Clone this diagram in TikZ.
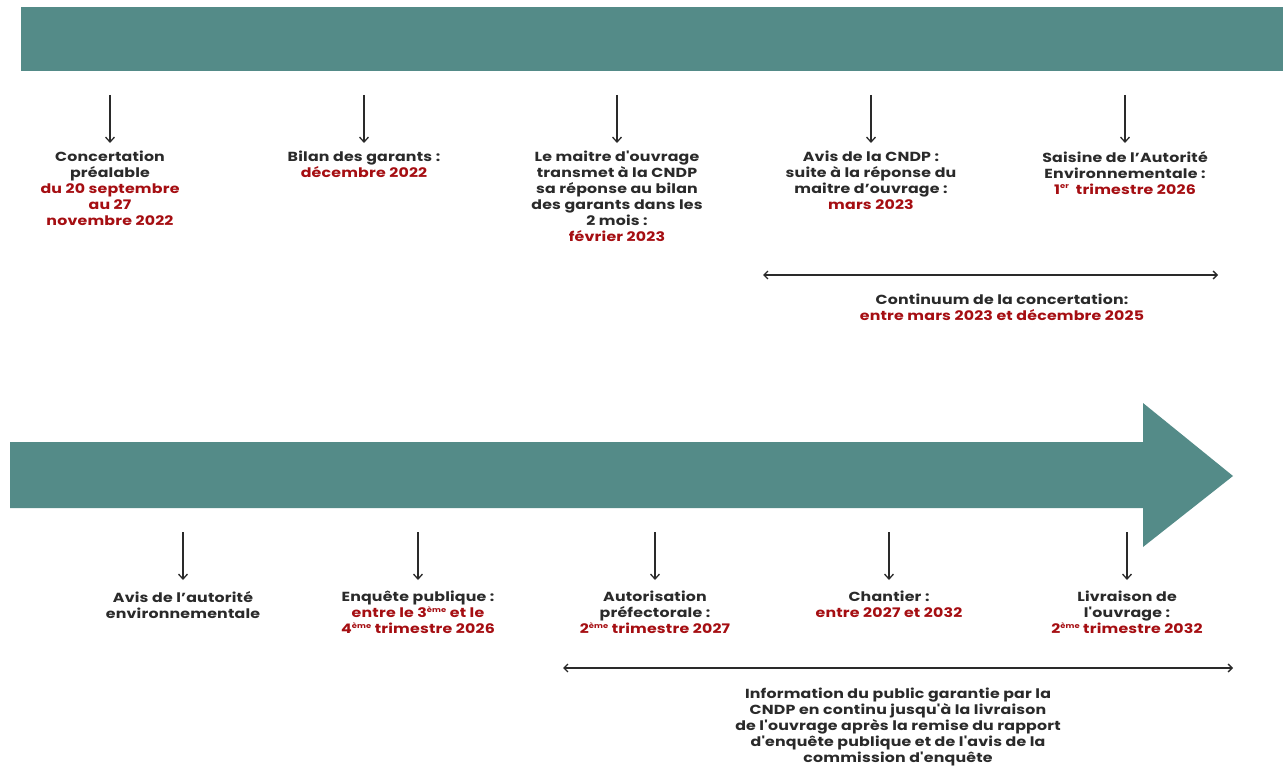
\documentclass[tikz,border=0pt]{standalone}
\usepackage{fontspec}
\setmainfont{Poppins}
\newfontfamily\lblfont{Poppins}[FakeStretch=1.2, LetterSpace=1.5]
\usetikzlibrary{arrows.meta}
\definecolor{teal1}{HTML}{548B88}
\definecolor{dred}{HTML}{A50E12}
\definecolor{dtxt}{HTML}{2A2A2A}
\tikzset{
  lbl/.style={anchor=north, align=center, text=dtxt, inner sep=0pt,
    font=\lblfont\fontsize{13.2}{16}\selectfont\bfseries},
  tick/.style={draw=dtxt, line width=1.3bp, -{Straight Barb[length=5bp,width=9bp]}},
  span/.style={draw=dtxt, line width=1.3bp, {Straight Barb[length=4bp,width=8bp]}-{Straight Barb[length=4bp,width=8bp]}},
}
\newcommand{\rd}[1]{\textcolor{dred}{#1}}
\newcommand{\exps}[1]{\raisebox{0.42em}{\fontsize{7}{7}\selectfont #1}}
\begin{document}
\begin{tikzpicture}[x=1bp,y=-1bp]
\useasboundingbox (0,0) rectangle (1287,767);
% top bar
\fill[teal1] (21,7) rectangle (1283,71);
% bottom arrow
\fill[teal1] (10,442) -- (1143,442) -- (1143,403) -- (1233,476) -- (1143,547) -- (1143,508) -- (10,508) -- cycle;

% top row
\foreach \n/\x in {a/110,b/364,c/617,d/871,e/1125}{
  \coordinate (\n s) at (\x,95);
  \coordinate (\n e) at (\x,143);
  \draw[tick] (\n s) -- (\n e);
}
\node[lbl] (ta) at (110,151) {Concertation\\préalable\\\rd{du 20 septembre}\\\rd{au 27}\\\rd{novembre 2022}};
\node[lbl] (tb) at (364,151) {Bilan des garants :\\\rd{décembre 2022}};
\node[lbl] (tc) at (617,151) {Le maitre d'ouvrage\\transmet à la CNDP\\sa réponse au bilan\\des garants dans les\\2 mois :\\\rd{février 2023}};
\node[lbl] (td) at (871,151) {Avis de la CNDP :\\suite à la réponse du\\maitre d’ouvrage :\\\rd{mars 2023}};
\node[lbl] (te) at (1125,151) {Saisine de l’Autorité\\Environnementale :\\\rd{1\exps{er}\ \ trimestre 2026}};

\coordinate (s1l) at (763,275);
\coordinate (s1r) at (1218,275);
\draw[span] (s1l) -- (s1r);
\node[lbl] (s1t) at (1002,294) {Continuum de la concertation:\\\rd{entre mars 2023 et décembre 2025}};

% bottom row
\foreach \n/\x in {f/183,g/418,h/655,i/889,j/1127}{
  \coordinate (\n s) at (\x,532);
  \coordinate (\n e) at (\x,580);
  \draw[tick] (\n s) -- (\n e);
}
\node[lbl] (bf) at (183,591) {Avis de l’autorité\\environnementale};
\node[lbl] (bg) at (418,591) {Enquête publique :\\\rd{entre le 3\exps{ème} et le}\\\rd{4\exps{ème} trimestre 2026}};
\node[lbl] (bh) at (655,591) {Autorisation\\préfectorale :\\\rd{2\exps{ème} trimestre 2027}};
\node[lbl] (bi) at (889,591) {Chantier :\\\rd{entre 2027 et 2032}};
\node[lbl] (bj) at (1127,591) {Livraison de\\l'ouvrage :\\\rd{2\exps{ème} trimestre 2032}};

\coordinate (s2l) at (563,668);
\coordinate (s2r) at (1233,668);
\draw[span] (s2l) -- (s2r);
\node[lbl] (s2t) at (898,688) {Information du public garantie par la\\CNDP en continu jusqu'à la livraison\\de l'ouvrage après la remise du rapport\\d'enquête publique et de l'avis de la\\commission d'enquête};
\end{tikzpicture}
\end{document}
